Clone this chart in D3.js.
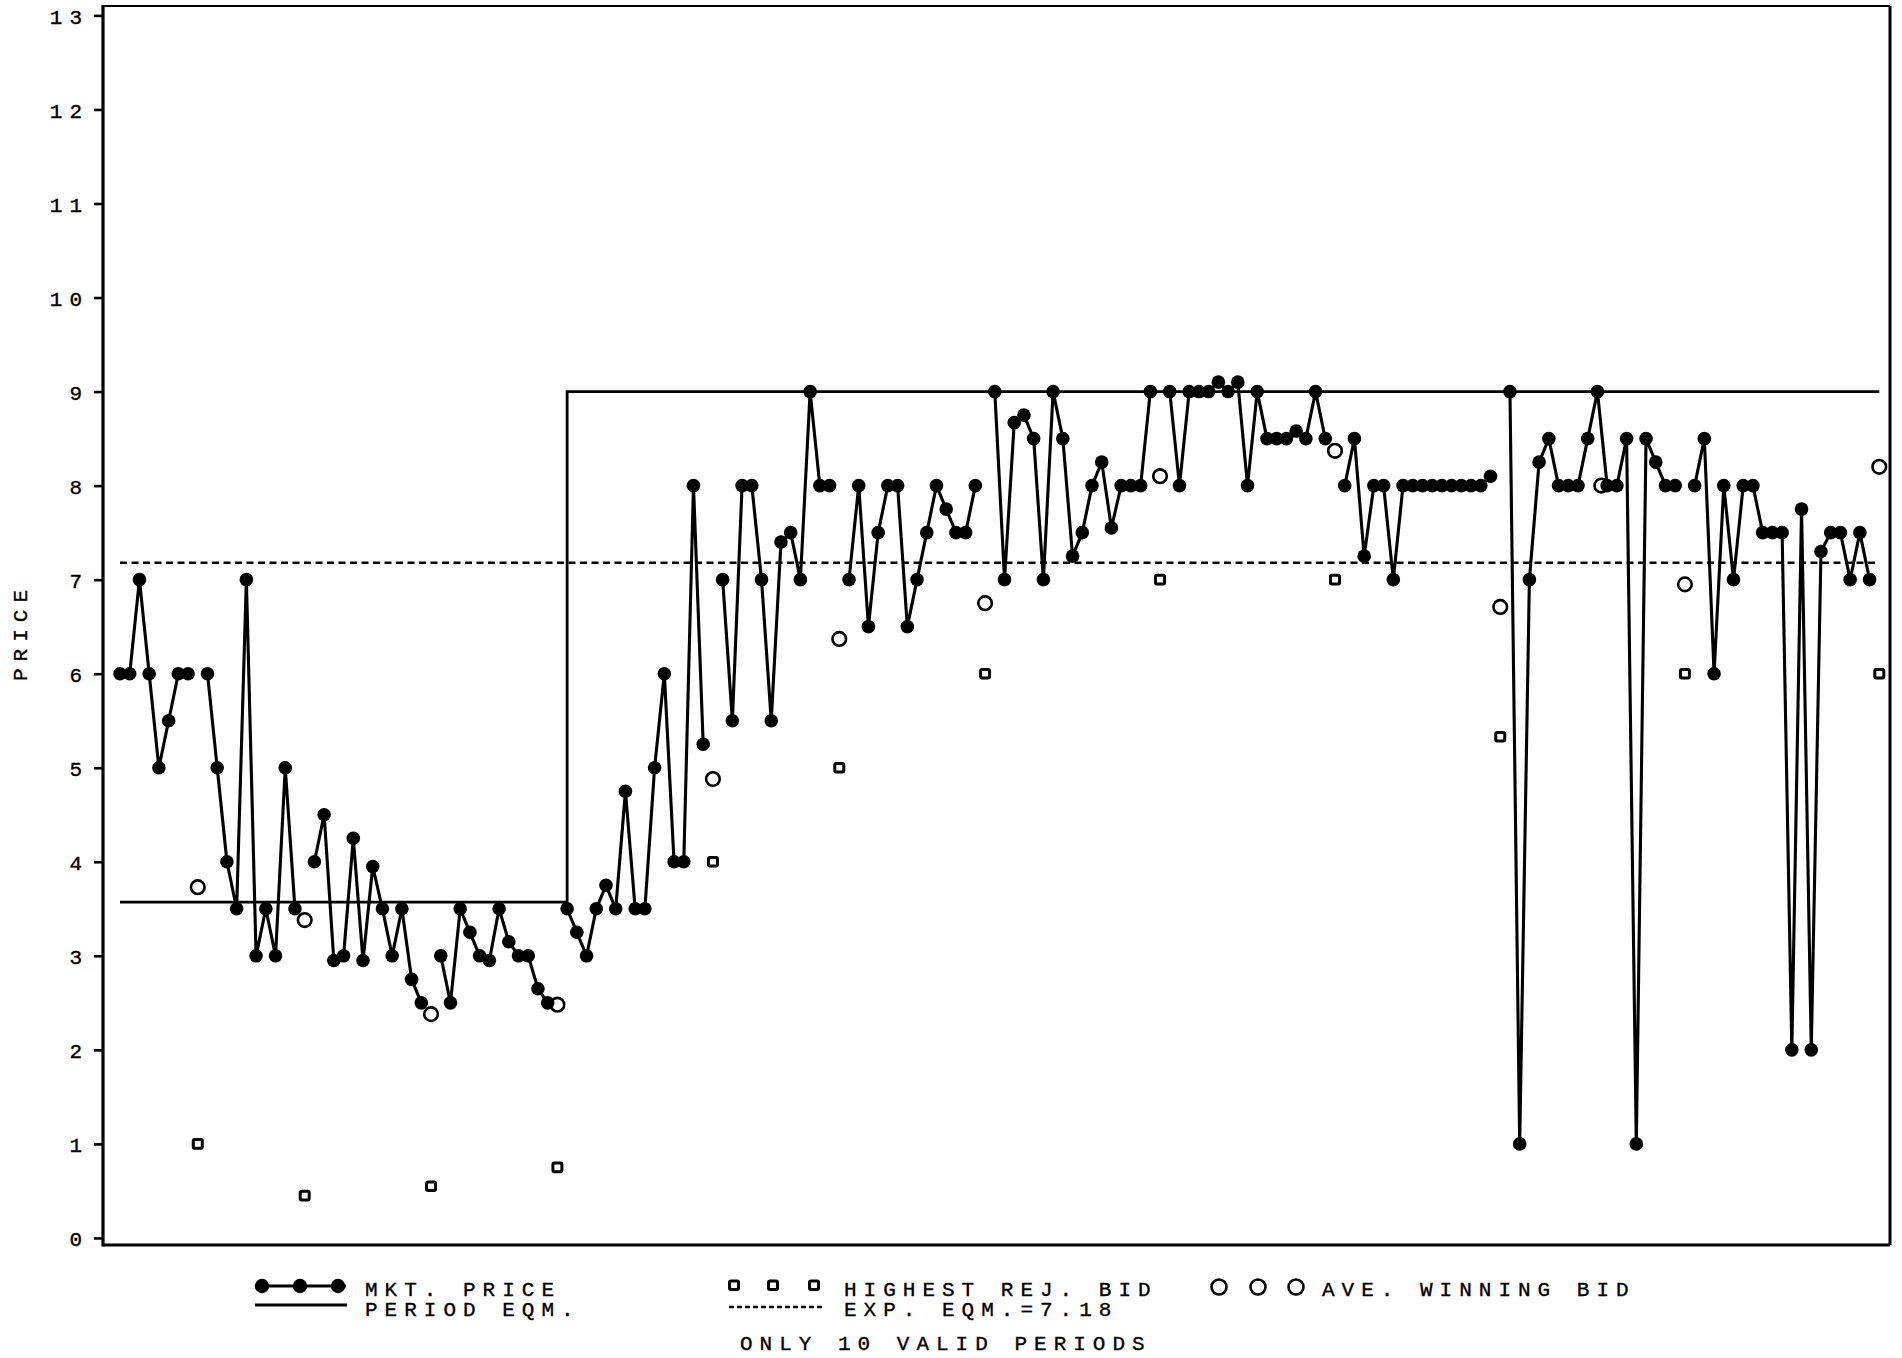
<!DOCTYPE html>
<html>
<head>
<meta charset="utf-8">
<script src="https://cdn.jsdelivr.net/npm/d3@7"></script>
<style>
  body { margin: 0; background: #fff; }
  svg { display: block; }
  text { font-family: "Liberation Mono", "DejaVu Sans Mono", monospace; fill: #000; stroke: #000; stroke-width: 0.35px; }
</style>
</head>
<body>
<svg id="chart" width="1902" height="1358"></svg>
<script>
// Market price per transaction slot; null marks the gap between trading periods.
const mktPrice = [
  6, 6, 7, 6, 5, 5.5, 6, 6,
  null,
  6, 5, 4, 3.5, 7, 3, 3.5, 3, 5, 3.5,
  null,
  4, 4.5, 2.95, 3, 4.25, 2.95, 3.95, 3.5, 3, 3.5, 2.75, 2.5,
  null,
  3, 2.5, 3.5, 3.25, 3, 2.95, 3.5, 3.15, 3, 3, 2.65, 2.5,
  null,
  3.5, 3.25, 3, 3.5, 3.75, 3.5, 4.75, 3.5, 3.5, 5, 6, 4, 4, 8, 5.25,
  null,
  7, 5.5, 8, 8, 7, 5.5, 7.4, 7.5, 7, 9, 8, 8,
  null,
  7, 8, 6.5, 7.5, 8, 8, 6.5, 7, 7.5, 8, 7.75, 7.5, 7.5, 8,
  null,
  9, 7, 8.67, 8.75, 8.5, 7, 9, 8.5, 7.25, 7.5, 8, 8.25, 7.55, 8, 8, 8, 9,
  null,
  9, 8, 9, 9, 9, 9.1, 9, 9.1, 8, 9, 8.5, 8.5, 8.5, 8.58, 8.5, 9, 8.5,
  null,
  8, 8.5, 7.25, 8, 8, 7, 8, 8, 8, 8, 8, 8, 8, 8, 8, 8.1,
  null,
  9, 1, 7, 8.25, 8.5, 8, 8, 8, 8.5, 9, 8, 8, 8.5, 1, 8.5, 8.25, 8, 8,
  null,
  8, 8.5, 6, 8, 7, 8, 8, 7.5, 7.5, 7.5, 2, 7.75, 2, 7.3, 7.5, 7.5, 7, 7.5, 7,
  null
];

// End-of-period bid summaries
const bidSlot    = [8, 19, 32, 45, 61, 74, 89, 107, 125, 142, 152.4, 161, 181];
const aveWinBid  = [3.73, 3.38, 2.38, 2.48, 4.88, 6.37, 6.75, 8.1, 8.37, 6.71, 8.0, 6.95, 8.2];
const highRejBid = [1.0, 0.45, 0.55, 0.75, 4.0, 5.0, 6.0, 7.0, 7.0, 5.33, null, 6.0, 6.0];

// Period equilibrium (step) and expected equilibrium
const eqmSlot  = [0, 46, 46, 181];
const eqmValue = [3.57, 3.57, 9, 9];
const expEqm   = 7.18;
const expSlot  = [0, 181];

const yTicks = d3.range(0, 14);

const svg = d3.select("#chart");
const plot = { left: 103, right: 1890, top: 6, bottom: 1245 };

const x = d3.scaleLinear().domain([-1.75, 182.1]).range([plot.left, plot.right]);
const y = d3.scaleLinear().domain([-0.075, 13.1]).range([plot.bottom, plot.top]);

const LS = 7;        // letter spacing of the plotter-style lettering
const FS = 21;

// Frame
svg.append("line").attr("x1", plot.left).attr("x2", plot.right).attr("y1", plot.top).attr("y2", plot.top)
  .attr("stroke", "#000").attr("stroke-width", 2.2);
svg.append("line").attr("x1", plot.right).attr("x2", plot.right).attr("y1", plot.top).attr("y2", plot.bottom)
  .attr("stroke", "#000").attr("stroke-width", 3);
svg.append("line").attr("x1", plot.left).attr("x2", plot.right).attr("y1", plot.bottom).attr("y2", plot.bottom)
  .attr("stroke", "#000").attr("stroke-width", 3.2);
svg.append("line").attr("x1", plot.left).attr("x2", plot.left).attr("y1", plot.top - 1).attr("y2", plot.bottom + 1.5)
  .attr("stroke", "#000").attr("stroke-width", 3.2);

// Y axis
const yAxis = d3.axisLeft(y).tickValues(yTicks).tickSize(9).tickSizeOuter(0).tickFormat(d3.format("d"));
const gy = svg.append("g").attr("transform", `translate(${plot.left},0)`).call(yAxis);
gy.select(".domain").remove();
gy.selectAll(".tick line").attr("stroke", "#000").attr("stroke-width", 2.6);
gy.selectAll(".tick text")
  .attr("x", -14)
  .attr("dy", "0.38em")
  .style("font-size", FS + "px")
  .style("letter-spacing", LS + "px")
  .style("font-family", "'Liberation Mono', monospace")
  .attr("fill", "#000");

svg.append("text")
  .attr("transform", "translate(27,632) rotate(-90)")
  .attr("text-anchor", "middle")
  .style("font-size", FS + "px")
  .style("letter-spacing", LS + "px")
  .text("PRICE");

// Expected equilibrium (dashed)
svg.append("path")
  .attr("d", d3.line()(expSlot.map(s => [x(s), y(expEqm)])))
  .attr("fill", "none").attr("stroke", "#000").attr("stroke-width", 2.5)
  .attr("stroke-dasharray", "7,4.5");

// Period equilibrium (solid step)
svg.append("path")
  .attr("d", d3.line()(eqmSlot.map((s, i) => [x(s), y(eqmValue[i])])))
  .attr("fill", "none").attr("stroke", "#000").attr("stroke-width", 2.8);

// Highest rejected bids (small squares)
const rejData = bidSlot.map((s, i) => ({ s, v: highRejBid[i] })).filter(d => d.v != null);
svg.append("g").selectAll("rect").data(rejData).join("rect")
  .attr("x", d => x(d.s) - 4.5).attr("y", d => y(d.v) - 4.3)
  .attr("width", 9).attr("height", 8.6).attr("rx", 1.5)
  .attr("fill", "#fff").attr("stroke", "#000").attr("stroke-width", 3);

// Average winning bids (open circles)
const winData = bidSlot.map((s, i) => ({ s, v: aveWinBid[i] }));
svg.append("g").selectAll("circle").data(winData).join("circle")
  .attr("cx", d => x(d.s)).attr("cy", d => y(d.v)).attr("r", 6.8)
  .attr("fill", "#fff").attr("stroke", "#000").attr("stroke-width", 2.6);

// Market price line and dots
const priceData = mktPrice.map((v, i) => ({ s: i, v }));
svg.append("path")
  .attr("d", d3.line().defined(d => d.v != null).x(d => x(d.s)).y(d => y(d.v))(priceData))
  .attr("fill", "none").attr("stroke", "#000").attr("stroke-width", 3.1).attr("stroke-linejoin", "round");
svg.append("g").selectAll("circle").data(priceData.filter(d => d.v != null)).join("circle")
  .attr("cx", d => x(d.s)).attr("cy", d => y(d.v)).attr("r", 6.8).attr("fill", "#000");

// Legend
const leg = svg.append("g");
const legText = (tx, ty, str) => leg.append("text").attr("x", tx).attr("y", ty)
  .style("font-size", FS + "px").style("letter-spacing", LS + "px").text(str);

// market price sample
leg.append("line").attr("x1", 255).attr("x2", 346).attr("y1", 1286).attr("y2", 1286)
  .attr("stroke", "#000").attr("stroke-width", 3);
[262, 300, 338].forEach(cx => leg.append("circle").attr("cx", cx).attr("cy", 1286).attr("r", 7.2).attr("fill", "#000"));
legText(365, 1296, "MKT. PRICE");
// period eqm sample
leg.append("line").attr("x1", 255).attr("x2", 347).attr("y1", 1305).attr("y2", 1305)
  .attr("stroke", "#000").attr("stroke-width", 3);
legText(365, 1316, "PERIOD EQM.");

// highest rejected bid sample
[734, 773, 814].forEach(cx => leg.append("rect").attr("x", cx - 4.5).attr("y", 1281).attr("width", 9).attr("height", 8.6)
  .attr("rx", 1.5).attr("fill", "#fff").attr("stroke", "#000").attr("stroke-width", 3));
legText(844, 1296, "HIGHEST REJ. BID");
// expected eqm sample
leg.append("line").attr("x1", 729).attr("x2", 825).attr("y1", 1307).attr("y2", 1307)
  .attr("stroke", "#000").attr("stroke-width", 2.5).attr("stroke-dasharray", "5,3");
legText(844, 1316, "EXP. EQM.=" + expEqm);

// average winning bid sample
[1219, 1258, 1296].forEach(cx => leg.append("circle").attr("cx", cx).attr("cy", 1287).attr("r", 7.5)
  .attr("fill", "#fff").attr("stroke", "#000").attr("stroke-width", 2.6));
legText(1322, 1296, "AVE. WINNING BID");

legText(740, 1350, "ONLY 10 VALID PERIODS");
</script>
</body>
</html>
